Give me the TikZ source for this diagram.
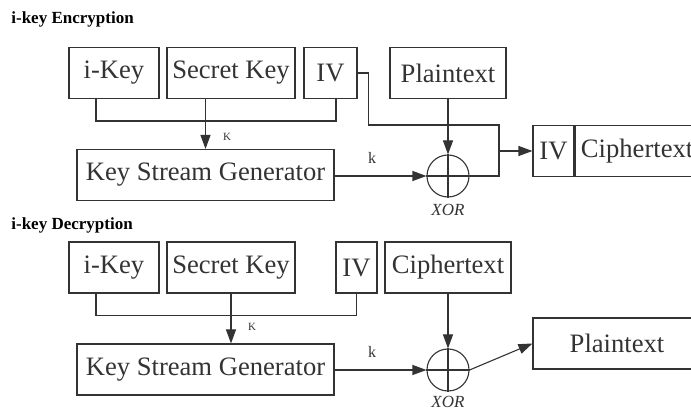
\documentclass[tikz,border=0pt]{standalone}
\usepackage{fontspec}
\setmainfont{Liberation Serif}
\usetikzlibrary{arrows.meta,positioning}
\definecolor{linegray}{HTML}{333333}

\begin{document}
\begin{tikzpicture}[
      x=0.5pt, y=-0.5pt,
      box/.style={draw=linegray, line width=0.55pt, inner sep=0pt, minimum height=25.5pt,
                  text=linegray, font=\fontsize{13.3}{15}\selectfont},
      xorsym/.style={draw=linegray, line width=0.55pt, circle, minimum size=21pt, inner sep=0pt},
      link/.style={draw=linegray, line width=0.55pt},
      arrow/.style={link, -{Triangle[length=7pt,width=5pt]}},
      lbl/.style={text=linegray, inner sep=0pt, font=\fontsize{8}{9}\selectfont},
      keylbl/.style={lbl, font=\fontsize{5.5}{6}\selectfont},
      xorlbl/.style={lbl, font=\itshape\fontsize{8.5}{10}\selectfont},
      title/.style={anchor=west, inner sep=0pt, text=black, font=\bfseries\fontsize{8.5}{10}\selectfont}
    ]
    \clip (0,0) rectangle (691,410);
    % encryption
    \node[title] (enctitle) at (11,19) {i-key Encryption};
    \node[box, minimum width=45pt] (ikey1) at (114,73) {i-Key};
    \node[box, minimum width=64pt] (sk1) at (231,73) {Secret Key};
    \node[box, minimum width=26.5pt] (iv1) at (330.5,73) {IV};
    \node[box, minimum width=58pt] (pt1) at (448,73) {Plaintext};
    \node[box, minimum width=128.5pt] (ksg1) at (205.5,175) {Key Stream Generator};
    \node[xorsym] (x1) at (448,176) {};
    \node[xorlbl, below=3pt of x1] (xl1) {XOR};
    \node[box, minimum width=20.5pt] (ivc1) at (553.5,151) {IV};
    \node[box, minimum width=62pt, right=0pt of ivc1] (ct1) {Ciphertext};
    \coordinate (m1) at (499,125);
    \coordinate (j1) at (499,151);
    \draw[link] (x1.north) -- (x1.south) (x1.west) -- (x1.east);
    \draw[link] ([xshift=-9pt]ikey1.south) -- ++(0,22) -| ([xshift=2.75pt]iv1.south);
    \draw[arrow] (sk1.south -| ksg1.north) -- (ksg1.north);
    \node[keylbl] (K1) at (227,137) {K};
    \draw[arrow] (x1.west -| ksg1.east) -- (x1.west);
    \node[lbl] (k1) at (372,158) {k};
    \draw[arrow] (pt1.south) -- (x1.north);
    \draw[link] (iv1.east) -- ++(11,0) |- (m1) |- (x1.east);
    \draw[arrow] (j1) -- (ivc1.west);
    % decryption
    \node[title] (dectitle) at (11,225) {i-key Decryption};
    \node[box, minimum width=45pt] (ikey2) at (114,267.5) {i-Key};
    \node[box, minimum width=64pt] (sk2) at (231,267.5) {Secret Key};
    \node[box, minimum width=20.5pt] (iv2) at (356.5,267.5) {IV};
    \node[box, minimum width=63pt] (ct2) at (448,267.5) {Ciphertext};
    \node[box, minimum width=128.5pt] (ksg2) at (205.5,369.5) {Key Stream Generator};
    \node[xorsym] (x2) at (448,370) {};
    \node[xorlbl, below=2pt of x2] (xl2) {XOR};
    \node[box, minimum width=84pt] (pt2) at (617,343.5) {Plaintext};
    \draw[link] (x2.north) -- (x2.south) (x2.west) -- (x2.east);
    \draw[link] ([xshift=-9pt]ikey2.south) -- ++(0,22) -| (iv2.south);
    \draw[arrow] (sk2.south) -- (sk2.south |- ksg2.north);
    \node[keylbl] (K2) at (252,327) {K};
    \draw[arrow] (x2.west -| ksg2.east) -- (x2.west);
    \node[lbl] (k2) at (372,352) {k};
    \draw[arrow] (ct2.south) -- (x2.north);
    \draw[arrow] (x2.east) -- (pt2.west);
  \end{tikzpicture}
\end{document}
